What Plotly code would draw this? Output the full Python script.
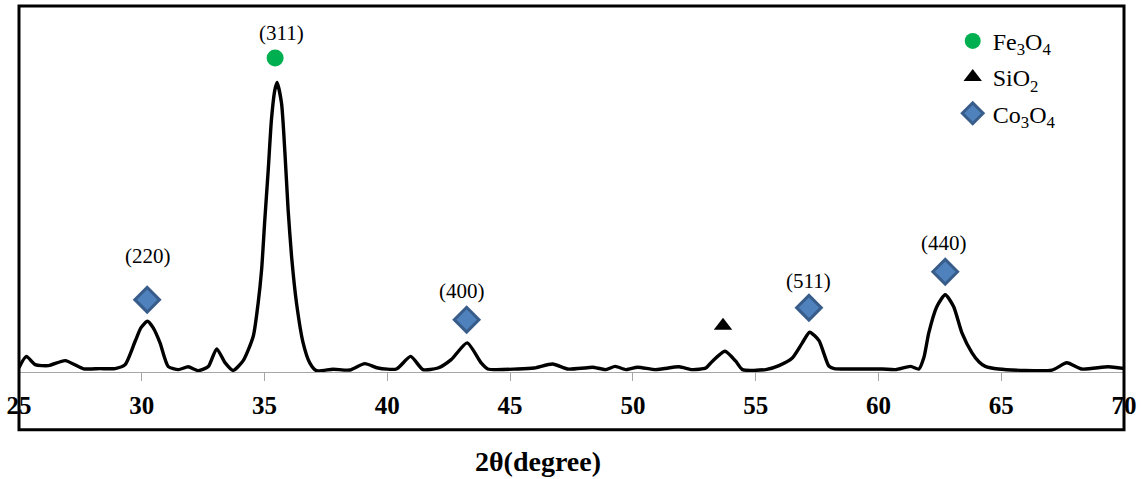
import plotly.graph_objects as go

# XRD pattern (2-theta in degrees, intensity in arbitrary counts)
two_theta = [25.00, 25.30, 25.66, 26.20, 26.88, 27.63, 28.30, 28.91, 29.32, 29.73,
             29.97, 30.23, 30.46, 30.74, 31.08, 31.49, 31.89, 32.30, 32.71, 33.05,
             33.39, 33.72, 34.13, 34.54, 34.74, 34.88, 35.01, 35.15, 35.28, 35.42,
             35.51, 35.69, 35.83, 35.96, 36.10, 36.30, 36.57, 36.84, 37.11, 37.79,
             38.47, 39.08, 39.62, 40.37, 40.95, 41.45, 42.06, 42.60, 43.25, 43.82,
             44.09, 45.31, 45.99, 46.73, 47.34, 48.02, 48.36, 48.90, 49.28, 49.72,
             50.19, 50.93, 51.88, 52.42, 52.97, 53.24, 53.75, 54.19, 54.46, 55.41,
             55.95, 56.49, 56.90, 57.20, 57.58, 57.78, 57.98, 58.20, 58.93, 60.15,
             60.70, 61.31, 61.65, 61.85, 62.05, 62.38, 62.72, 63.06, 63.40, 63.81,
             64.10, 64.35, 64.89, 67.06, 67.67, 68.28, 69.36, 69.97]
intensity = [10, 66, 25, 20, 45, 4, 5, 5, 25, 142,
             210, 242, 210, 135, 15, 0, 14, -5, 15, 104,
             35, -4, 45, 167, 334, 500, 750, 1000, 1250, 1400,
             1437, 1334, 1084, 800, 567, 334, 134, 34, -5, 2,
             -2, 30, 8, 3, 66, 0, 8, 50, 134, 34,
             3, 3, 8, 28, 3, 8, 12, 0, 16, 0,
             12, 0, 14, 0, 8, 42, 92, 42, 0, 0,
             20, 58, 134, 187, 145, 80, 18, 5, 3, 3,
             0, 16, 3, 60, 184, 316, 375, 316, 184, 84,
             38, 16, 3, -3, 34, 3, 14, 6]

# Phase markers
fe3o4_x = [35.43]
fe3o4_y = [1560]
sio2_x = [53.67]
sio2_y = [220]
co3o4_x = [30.22, 43.23, 57.17, 62.72]
co3o4_y = [350, 250, 310, 490]

# hkl labels
hkl_text = ["(220)", "(311)", "(400)", "(511)", "(440)"]
hkl_x = [30.25, 35.67, 43.03, 57.17, 62.65]
hkl_y = [570, 1685, 395, 445, 635]

x_ticks = [25, 30, 35, 40, 45, 50, 55, 60, 65, 70]

SERIF = "Liberation Serif, Times New Roman, serif"

fig = go.Figure()
fig.add_trace(go.Scatter(
    x=two_theta, y=intensity, mode="lines",
    line=dict(color="black", width=3.4, shape="spline", smoothing=0.6),
    showlegend=False, hoverinfo="skip"))

fig.add_trace(go.Scatter(
    x=fe3o4_x, y=fe3o4_y, mode="markers", name="Fe<sub>3</sub>O<sub>4</sub>",
    marker=dict(symbol="circle", size=17, color="#00b050"),
    legendgroup="a"))
fig.add_trace(go.Scatter(
    x=sio2_x, y=sio2_y, mode="markers", name="SiO<sub>2</sub>",
    marker=dict(symbol="triangle-up", size=16, color="black"),
    legendgroup="b"))
fig.add_trace(go.Scatter(
    x=co3o4_x, y=co3o4_y, mode="markers", name="Co<sub>3</sub>O<sub>4</sub>",
    marker=dict(symbol="diamond", size=19, color="#4f81bd",
                line=dict(color="#385d8a", width=3)),
    legendgroup="c"))

for t, xv, yv in zip(hkl_text, hkl_x, hkl_y):
    fig.add_annotation(x=xv, y=yv, text=t, showarrow=False,
                       font=dict(family=SERIF, size=21, color="black"))

# axis title
fig.add_annotation(xref="paper", yref="paper", x=0.47, y=-0.245,
                   text="2θ(degree)", showarrow=False, yanchor="middle",
                   font=dict(family=SERIF, size=28, color="black", weight="bold"))

# outer frame
fig.add_shape(type="rect", xref="paper", yref="paper", x0=0, x1=1, y0=-0.158, y1=1,
              line=dict(color="black", width=3), fillcolor="rgba(0,0,0,0)", layer="above")

fig.update_layout(
    width=1143, height=479,
    margin=dict(l=19, r=17, t=6, b=107),
    paper_bgcolor="white", plot_bgcolor="white",
    legend=dict(x=0.845, y=0.965, xanchor="left", yanchor="top",
                font=dict(family=SERIF, size=24, color="black"),
                tracegroupgap=2, bgcolor="rgba(0,0,0,0)"),
    xaxis=dict(range=[25, 70], tickvals=x_ticks, showgrid=False, zeroline=False,
               showline=True, linecolor="#a6a6a6", linewidth=1,
               ticks="outside", ticklen=8, tickcolor="#a6a6a6", tickwidth=1,
               ticklabelstandoff=3,
               tickfont=dict(family=SERIF, size=25, color="black", weight="bold")),
    yaxis=dict(range=[-12, 1820], visible=False, showgrid=False, zeroline=False),
)

fig.write_html("out.html", config={"displayModeBar": False},
               post_script="document.body.style.margin='0';")
